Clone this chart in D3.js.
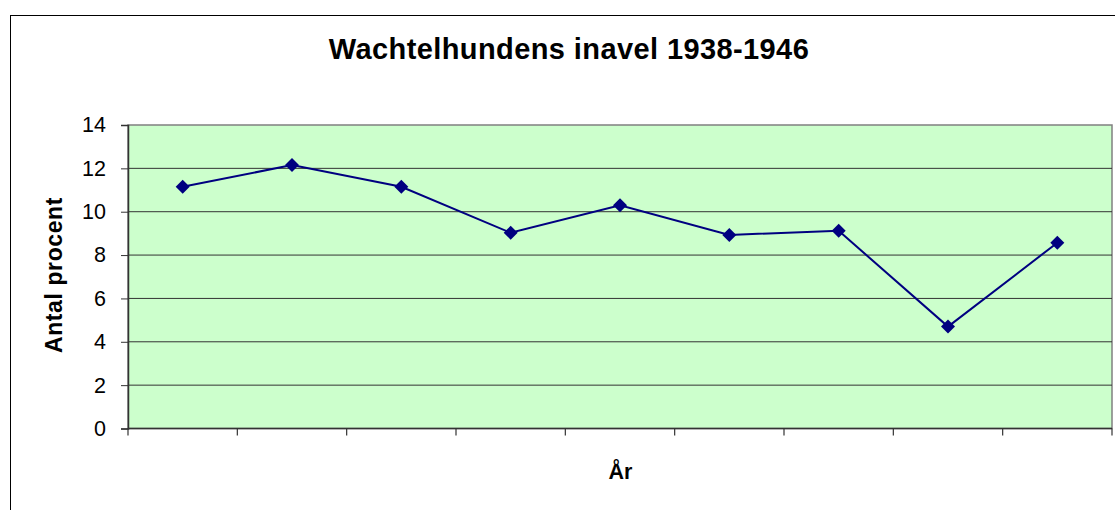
<!DOCTYPE html>
<html>
<head>
<meta charset="utf-8">
<script src="https://cdn.jsdelivr.net/npm/d3@7"></script>
<style>
  body { margin: 0; background: #fff; }
  svg { display: block; font-family: "Liberation Sans", Arial, sans-serif; }
</style>
</head>
<body>
<svg id="chart" width="1115" height="510"></svg>
<script>
// data
const years = ["1938", "1939", "1940", "1941", "1942", "1943", "1944", "1945", "1946"];
const values = [11.15, 12.15, 11.15, 9.03, 10.3, 8.93, 9.12, 4.7, 8.57];
const yTicks = [0, 2, 4, 6, 8, 10, 12, 14];

const svg = d3.select("#chart");
const margin = { left: 128, top: 125, right: 1112, bottom: 428.5 };

// outer chart border
svg.append("rect")
  .attr("x", 10.5).attr("y", 15.5)
  .attr("width", 1120).attr("height", 520)
  .attr("fill", "#fff")
  .attr("stroke", "#000").attr("stroke-width", 1);

const x = d3.scaleBand()
  .domain(years)
  .range([margin.left, margin.right]);

const y = d3.scaleLinear()
  .domain([0, 14])
  .range([margin.bottom, margin.top]);

// plot area
svg.append("rect")
  .attr("x", margin.left).attr("y", margin.top)
  .attr("width", margin.right - margin.left)
  .attr("height", margin.bottom - margin.top)
  .attr("fill", "#ccffcc")
  .attr("stroke", "#808080").attr("stroke-width", 1.5);

// gridlines
svg.append("g")
  .selectAll("line")
  .data(yTicks.filter(d => d > 0 && d < 14))
  .join("line")
  .attr("x1", margin.left).attr("x2", margin.right)
  .attr("y1", d => y(d)).attr("y2", d => y(d))
  .attr("stroke", "#333").attr("stroke-width", 1);

// y axis
const yAxis = svg.append("g")
  .attr("transform", `translate(${margin.left},0)`)
  .call(d3.axisLeft(y).tickValues(yTicks).tickSize(7).tickPadding(15).tickFormat(d3.format("d")));
yAxis.attr("font-size", null).attr("font-family", null);
yAxis.select(".domain").attr("stroke", "#333").attr("stroke-width", 1.5);
yAxis.selectAll(".tick line").attr("stroke", "#333");
yAxis.selectAll("text").style("font-size", "21.5px").attr("fill", "#000");

// x axis: ticks at category boundaries, no labels
const bounds = years.map(d => x(d)).concat([x.range()[1]]);
svg.append("line")
  .attr("x1", margin.left).attr("x2", margin.right)
  .attr("y1", margin.bottom).attr("y2", margin.bottom)
  .attr("stroke", "#333").attr("stroke-width", 1.5);
svg.append("g")
  .selectAll("line")
  .data(bounds)
  .join("line")
  .attr("x1", d => d).attr("x2", d => d)
  .attr("y1", margin.bottom).attr("y2", margin.bottom + 7)
  .attr("stroke", "#333").attr("stroke-width", 1.2);

// line
const line = d3.line()
  .x((d, i) => x(years[i]) + x.bandwidth() / 2)
  .y(d => y(d));

svg.append("path")
  .datum(values)
  .attr("d", line)
  .attr("fill", "none")
  .attr("stroke", "#000080")
  .attr("stroke-width", 2);

// diamond markers
svg.append("g")
  .selectAll("path")
  .data(values)
  .join("path")
  .attr("d", d3.symbol(d3.symbolSquare, 98))
  .attr("transform", (d, i) => `translate(${x(years[i]) + x.bandwidth() / 2},${y(d)}) rotate(45)`)
  .attr("fill", "#000080");

// title and axis titles
svg.append("text")
  .attr("x", 569).attr("y", 59)
  .attr("text-anchor", "middle")
  .style("font-size", "29px").attr("font-weight", "bold")
  .attr("letter-spacing", 0.4)
  .text("Wachtelhundens inavel 1938-1946");

svg.append("text")
  .attr("transform", `translate(62,275) rotate(-90)`)
  .attr("text-anchor", "middle")
  .style("font-size", "23px").attr("font-weight", "bold")
  .attr("letter-spacing", 0.6)
  .text("Antal procent");

svg.append("text")
  .attr("x", 620.5).attr("y", 479)
  .attr("text-anchor", "middle")
  .style("font-size", "21.5px").attr("font-weight", "bold")
  .text("År");
</script>
</body>
</html>
